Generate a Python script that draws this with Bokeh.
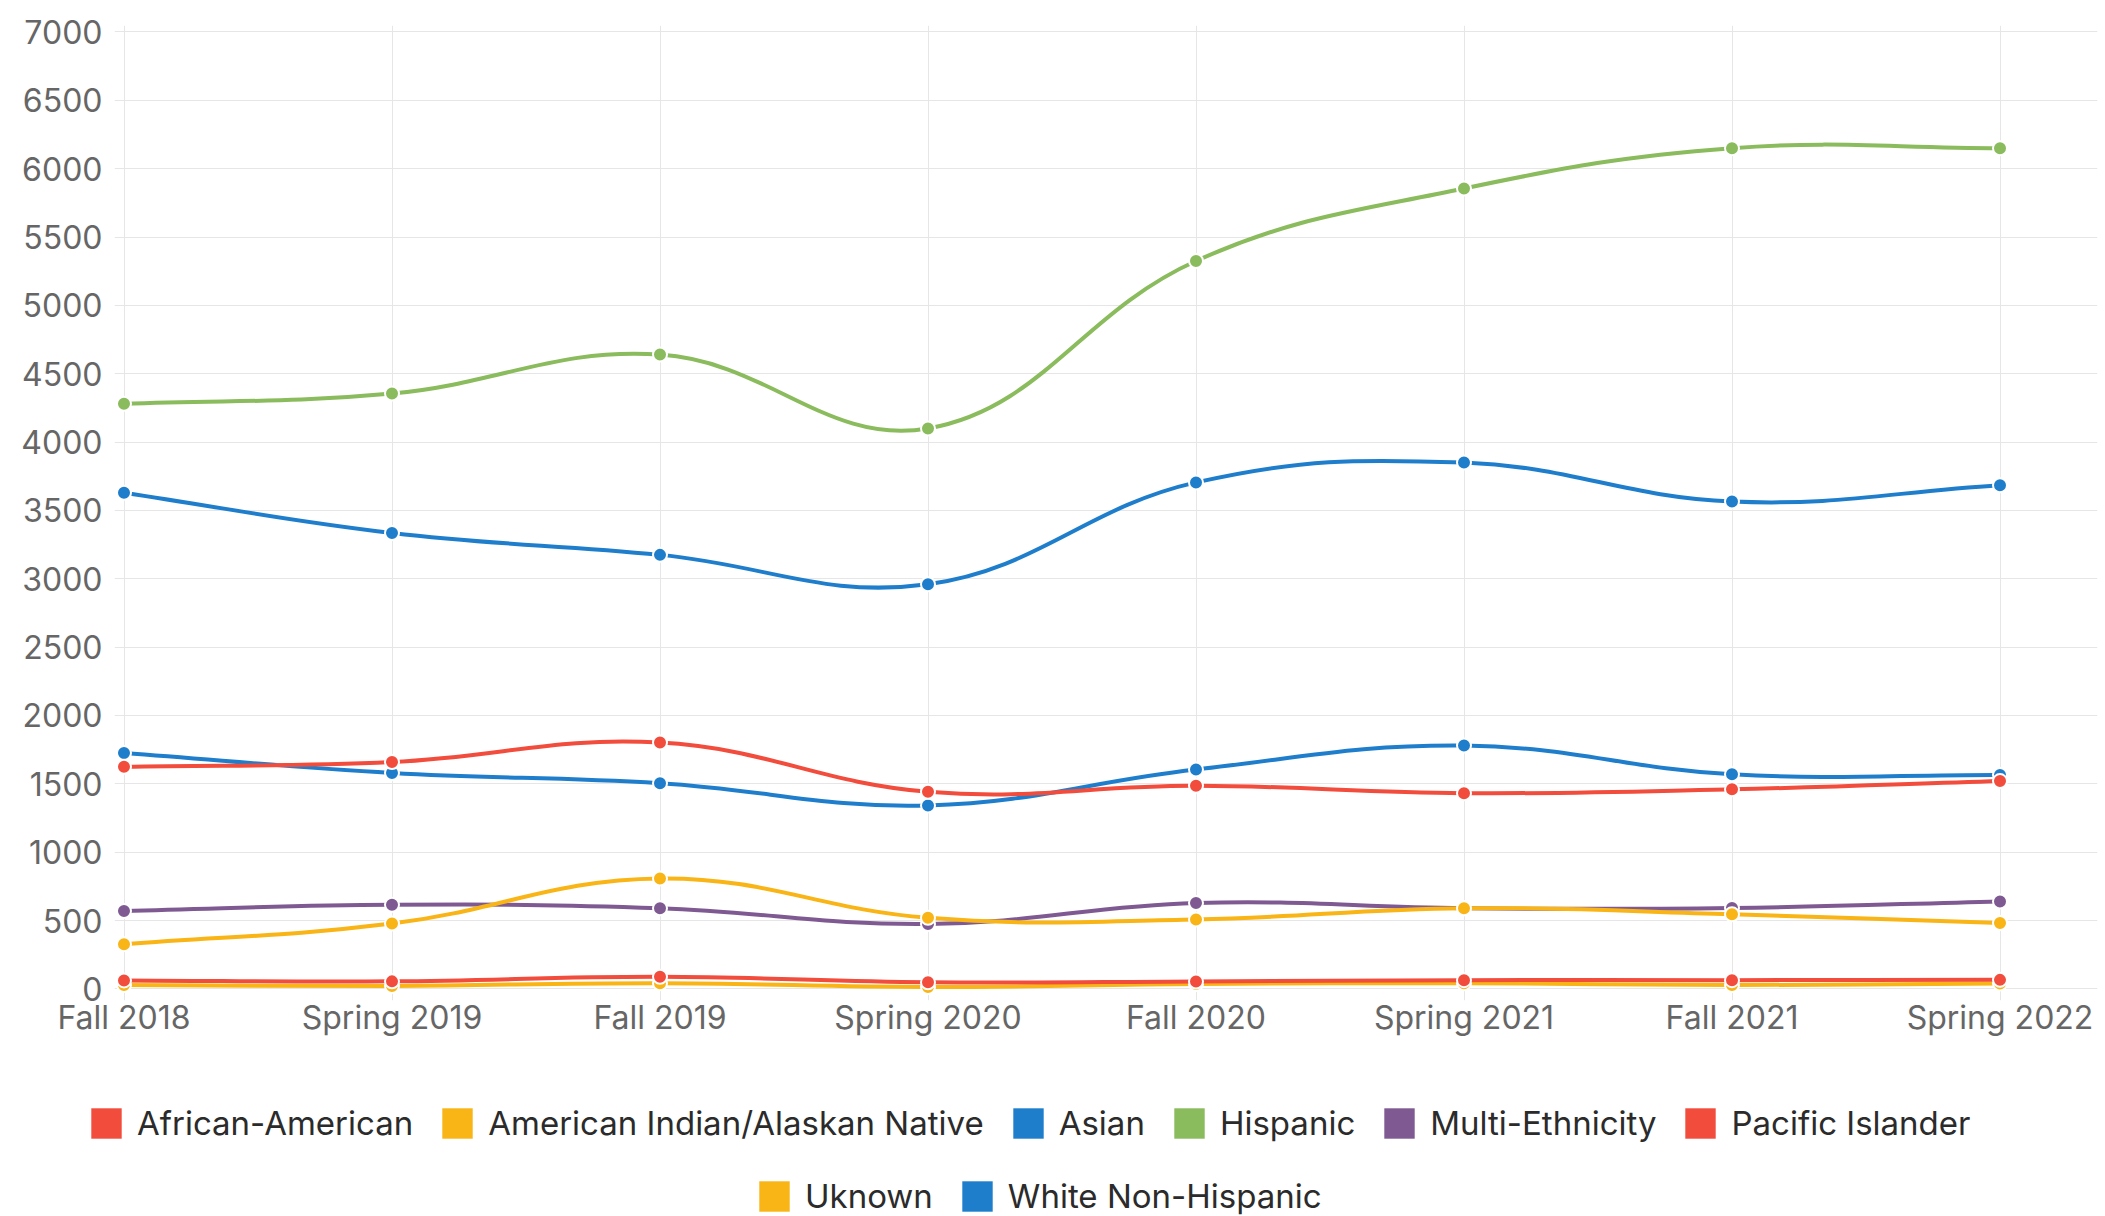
import math
import numpy as np
from bokeh.plotting import figure
from bokeh.models import (ColumnDataSource, Range1d, FixedTicker, Legend,
                          LegendItem)
from bokeh.embed import file_html
from bokeh.resources import INLINE

# ---------------- data ----------------
terms = ["Fall 2018", "Spring 2019", "Fall 2019", "Spring 2020",
         "Fall 2020", "Spring 2021", "Fall 2021", "Spring 2022"]

african_american = [1625, 1660, 1802, 1442, 1486, 1432, 1460, 1520]
american_indian = [327, 478, 808, 520, 508, 590, 546, 482]
asian = [1725, 1580, 1505, 1342, 1605, 1780, 1570, 1565]
hispanic = [4280, 4355, 4640, 4100, 5325, 5855, 6150, 6150]
multi_ethnicity = [570, 615, 590, 475, 628, 590, 592, 640]
pacific_islander = [62, 55, 88, 48, 54, 64, 64, 66]
unknown = [28, 22, 42, 14, 36, 42, 28, 40]
white_non_hispanic = [3630, 3335, 3175, 2960, 3705, 3850, 3565, 3685]

series_names = ["African-American", "American Indian/Alaskan Native", "Asian",
                "Hispanic", "Multi-Ethnicity", "Pacific Islander", "Uknown",
                "White Non-Hispanic"]
series_values = [african_american, american_indian, asian, hispanic,
                 multi_ethnicity, pacific_islander, unknown, white_non_hispanic]
colors = ["#F24C3D", "#F9B416", "#1F7ECC", "#8ABB5C", "#7F5A92",
          "#F24C3D", "#F9B416", "#1F7ECC"]

y_ticks = list(range(0, 7001, 500))

# ---------------- layout ----------------
FONT = "Inter"
FS = "32px"
LEG_FS = "33px"
TOTAL_W = 2105
LEFT, TOP, BOTTOM = 114, 25, 45
FRAME_W, FRAME_H = 1983, 975
PX_X = 268.0      # pixels per category step
PX_Y = 0.1367     # pixels per unit
X0 = -9.5 / PX_X
X1 = X0 + FRAME_W / PX_X
Y1 = 7047.5
Y0 = Y1 - FRAME_H / PX_Y

p = figure(frame_width=FRAME_W, frame_height=FRAME_H,
           x_range=Range1d(X0, X1), y_range=Range1d(Y0, Y1),
           output_backend="svg", toolbar_location=None,
           min_border_left=LEFT, min_border_right=TOTAL_W - LEFT - FRAME_W,
           min_border_top=TOP, min_border_bottom=BOTTOM)
p.outline_line_color = None
p.background_fill_color = "white"
p.border_fill_color = "white"

GRID = "#e6e6e6"
for ax in (p.xaxis[0], p.yaxis[0]):
    ax.axis_line_color = None
    ax.major_tick_line_color = None
    ax.minor_tick_line_color = None
    ax.major_tick_out = 0
    ax.major_tick_in = 0
    ax.major_label_text_font = FONT
    ax.major_label_text_font_size = FS
    ax.major_label_text_color = "#666666"

p.xaxis[0].ticker = FixedTicker(ticks=list(range(len(terms))))
p.xaxis[0].major_label_overrides = {i: t for i, t in enumerate(terms)}
p.xaxis[0].major_label_standoff = -3
p.yaxis[0].ticker = FixedTicker(ticks=y_ticks)
p.yaxis[0].major_label_standoff = 12

p.xgrid.grid_line_color = GRID
p.ygrid.grid_line_color = GRID
p.xgrid.grid_line_width = 1
p.ygrid.grid_line_width = 1


def spline_segments(vals, t=0.4):
    xs = np.arange(len(vals), dtype=float) * PX_X
    ys = np.array(vals, dtype=float) * PX_Y
    n = len(xs)
    cpp, cpn = [], []
    for i in range(n):
        a, b = max(i - 1, 0), min(i + 1, n - 1)
        d01 = math.hypot(xs[i] - xs[a], ys[i] - ys[a])
        d12 = math.hypot(xs[b] - xs[i], ys[b] - ys[i])
        tot = d01 + d12
        s01 = d01 / tot if tot else 0.0
        s12 = d12 / tot if tot else 0.0
        fa, fb = t * s01, t * s12
        cpp.append((xs[i] - fa * (xs[b] - xs[a]), ys[i] - fa * (ys[b] - ys[a])))
        cpn.append((xs[i] + fb * (xs[b] - xs[a]), ys[i] + fb * (ys[b] - ys[a])))
    d = dict(x0=[], y0=[], x1=[], y1=[], cx0=[], cy0=[], cx1=[], cy1=[])
    for i in range(n - 1):
        d["x0"].append(xs[i] / PX_X); d["y0"].append(ys[i] / PX_Y)
        d["x1"].append(xs[i + 1] / PX_X); d["y1"].append(ys[i + 1] / PX_Y)
        d["cx0"].append(cpn[i][0] / PX_X); d["cy0"].append(cpn[i][1] / PX_Y)
        d["cx1"].append(cpp[i + 1][0] / PX_X); d["cy1"].append(cpp[i + 1][1] / PX_Y)
    return d


# draw in reverse so the first series sits on top (as in the original)
for name, vals, col in reversed(list(zip(series_names, series_values, colors))):
    seg = ColumnDataSource(spline_segments(vals))
    p.bezier(x0="x0", y0="y0", x1="x1", y1="y1", cx0="cx0", cy0="cy0",
             cx1="cx1", cy1="cy1", source=seg, line_color=col, line_width=4)
    pts = ColumnDataSource(dict(x=list(range(len(vals))), y=vals))
    p.scatter(x="x", y="y", source=pts, size=14, fill_color=col,
              line_color="white", line_width=2)

# ---------------- legend strip (second figure, separate root) ----------------
MAIN_H = TOP + FRAME_H + BOTTOM
LEG_H = 1216 - MAIN_H

lg = figure(width=TOTAL_W, height=LEG_H,
            x_range=Range1d(-100, -99), y_range=Range1d(-100, -99),
            output_backend="svg", toolbar_location=None,
            min_border_left=0, min_border_right=0,
            min_border_top=0, min_border_bottom=0)
lg.axis.visible = False
lg.grid.visible = False
lg.outline_line_color = None
lg.background_fill_color = "white"
lg.border_fill_color = "white"

# swatch renderers: zero-size rects on the series data (only their legend
# glyph is seen, the strip's ranges lie away from the data)
swatches = []
for name, vals, col in zip(series_names, series_values, colors):
    src = ColumnDataSource(dict(x=list(range(len(vals))), y=vals))
    r = lg.rect(x="x", y="y", width=0, height=0, source=src,
                fill_color=col, line_color=None)
    swatches.append(LegendItem(label=name, renderers=[r]))

GLYPH = 38


def make_legend(items, left_px, center_y):
    # location is (x from strip's left, y from strip's bottom) in pixels
    vy = 1216 - (center_y + GLYPH / 2)
    return Legend(items=items, orientation="horizontal",
                  location=(left_px, vy),
                  glyph_width=GLYPH, glyph_height=GLYPH, label_standoff=12,
                  spacing=25, padding=0, margin=0,
                  border_line_color=None, background_fill_alpha=0,
                  label_text_font=FONT, label_text_font_size=LEG_FS,
                  label_text_color="#2b2b2b")


lg.add_layout(make_legend(swatches[:6], 87, 1124), "center")
lg.add_layout(make_legend(swatches[6:], 755, 1197), "center")

open("out.html", "w").write(file_html([p, lg], INLINE))
